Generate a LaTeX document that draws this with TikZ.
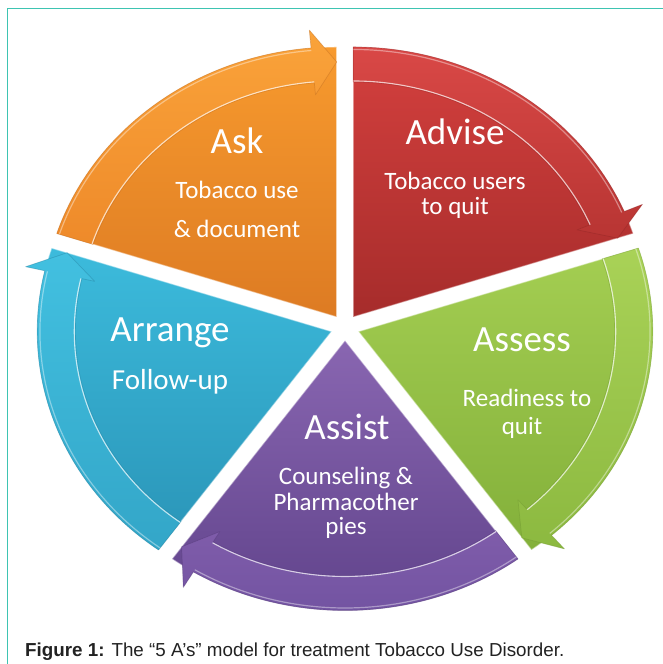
\documentclass[tikz,border=0pt]{standalone}
\usepackage{fontspec}
\setmainfont{Carlito}
\newfontfamily\capfont{Liberation Sans}
\usetikzlibrary{calc}
\definecolor{frameteal}{HTML}{3EC4B2}
\definecolor{orT}{HTML}{F79A2E}\definecolor{orB}{HTML}{DD7B23}
\definecolor{orbT}{HTML}{FAA33A}\definecolor{orbB}{HTML}{EE8A2A}
\definecolor{rdT}{HTML}{D4403E}\definecolor{rdB}{HTML}{A62C2B}
\definecolor{rdbT}{HTML}{D94846}\definecolor{rdbB}{HTML}{B83533}
\definecolor{grT}{HTML}{A4CE52}\definecolor{grB}{HTML}{83B03A}
\definecolor{grbT}{HTML}{A9D257}\definecolor{grbB}{HTML}{8CB940}
\definecolor{puT}{HTML}{8966B1}\definecolor{puB}{HTML}{5E4189}
\definecolor{pubT}{HTML}{7F5CAA}\definecolor{pubB}{HTML}{7052A0}
\definecolor{blT}{HTML}{3CBBDC}\definecolor{blB}{HTML}{2A94B7}
\definecolor{blbT}{HTML}{42C0E0}\definecolor{blbB}{HTML}{33A6C8}
\definecolor{captext}{HTML}{222222}
\newcommand\pieseg[7]{%
 \begin{scope}[shift={(#3:13)}]
  \shade[top color=#4,bottom color=#5] (0,0) -- (#1:270) arc[start angle=#1,end angle=#2,radius=270] -- cycle;
  \draw[white,opacity=.45,line width=1.2,line join=round] (0,0) -- (#1:270) arc[start angle=#1,end angle=#2,radius=270] -- cycle;
  \pgfmathsetmacro\hb{#2+5}
  \shade[top color=#6,bottom color=#7,draw=#5!85!black,draw opacity=.4,line width=.7,line join=round]
     (#1:270) arc[start angle=#1,end angle=\hb,radius=270] -- (\hb:288) -- (#2:255) -- (\hb:223) -- (\hb:235)
     arc[start angle=\hb,end angle=#1,radius=235] -- cycle;
  \draw[white,opacity=.7,line width=1.1] (\hb:236) arc[start angle=\hb,end angle=#1,radius=236];
  \draw[white,opacity=.4,line width=1.2] (#1:267.5) arc[start angle=#1,end angle=\hb,radius=267.5];
 \end{scope}}
\begin{document}
\begin{tikzpicture}[x=1pt,y=1pt,
  title/.style={text=white,font=\fontsize{37}{37}\selectfont,anchor=base,inner sep=0},
  sub/.style={text=white,font=\fontsize{25}{25}\selectfont,anchor=base,inner sep=0},
  frameline/.style={draw=frameteal,line width=1.5}]
\useasboundingbox (0,0) rectangle (662,664);
\fill[white] (0,0) rectangle (662,664);
\draw[frameline] (663,655.5) -- (7.5,655.5) -- (7.5,-1);
\begin{scope}[shift={(345,336.5)},xscale=1.09]
  \pieseg{162}{90}{126}{orT}{orB}{orbT}{orbB}
  \pieseg{90}{18}{54}{rdT}{rdB}{rdbT}{rdbB}
  \pieseg{18}{-54}{-18}{grT}{grB}{grbT}{grbB}
  \pieseg{-54}{-126}{-90}{puT}{puB}{pubT}{pubB}
  \pieseg{234}{162}{198}{blT}{blB}{blbT}{blbB}
\end{scope}
\node[title] (ask) at (237,510) {Ask};
\node[sub] (ask1) at (237,465) {Tobacco use};
\node[sub] (ask2) at (237,426) {\& document};
\node[title] (advise) at (455,519) {Advise};
\node[sub] (adv1) at (455,474) {Tobacco users};
\node[sub] (adv2) at (455,449) {to quit};
\node[title] (arrange) at (170,322) {Arrange};
\node[sub,font=\fontsize{29}{29}\selectfont] (arr1) at (170,274) {Follow-up};
\node[title] (assess) at (522,312) {Assess};
\node[sub] (ass1) at (527,257) {Readiness to};
\node[sub] (ass2) at (522,229) {quit};
\node[title] (assist) at (347,224) {Assist};
\node[sub] (ast1) at (346,179) {Counseling \&};
\node[sub] (ast2) at (346,153) {Pharmacother};
\node[sub] (ast3) at (346,129) {pies};
\node[anchor=base west,inner sep=0,text=captext,font=\capfont\fontsize{18.8}{18.8}\selectfont] (cap) at (25,8)
  {\textbf{Figure 1:} The “5 A’s” model for treatment Tobacco Use Disorder.};
\end{tikzpicture}
\end{document}
